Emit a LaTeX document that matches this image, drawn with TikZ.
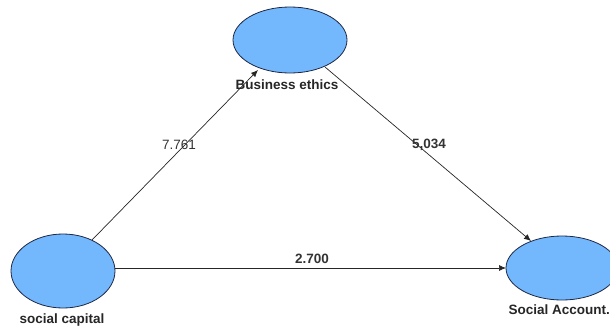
\documentclass[tikz,border=0pt]{standalone}
\usepackage{fontspec}
\setmainfont{Liberation Sans}
\usetikzlibrary{arrows.meta,shapes.geometric}
\definecolor{ellfill}{RGB}{115,183,252}
\definecolor{ellline}{RGB}{30,40,70}
\begin{document}
\begin{tikzpicture}[x=1pt,y=-1pt,
  construct/.style={ellipse,draw=ellline,line width=0.8pt,fill=ellfill,minimum width=#1,minimum height=68pt,inner sep=0pt},
  lbl/.style={font=\fontsize{13.5}{15}\selectfont\bfseries,text=black!85,inner sep=0pt},
  val/.style={font=\fontsize{13.5}{15}\selectfont,text=black!80,inner sep=0pt},
  link/.style={draw=black!85,line width=0.7pt,-{Latex[length=7pt,width=6pt]}}]
\useasboundingbox (0,0) rectangle (610,327);
\clip (0,0) rectangle (610,327);
\node[construct=114pt,minimum height=66pt] (be) at (290,40) {};
\node[construct=104pt,minimum height=74pt] (sc) at (63,271) {};
\node[construct=112pt,minimum height=64pt] (sa) at (562,268) {};
\node[lbl] (belbl) at (287,85) {Business ethics};
\node[lbl] (sclbl) at (62,320) {social capital};
\node[lbl,anchor=east] (salbl) at (610,310) {Social Account.};
\coordinate (beIn) at (258,70);
\coordinate (scOut) at (92,240);
\coordinate (beOut) at (325,67);
\coordinate (saIn) at (531,241);
\coordinate (scR) at (115,268);
\coordinate (saL) at (506,268);
\draw[link] (scOut) -- (beIn);
\draw[link] (beOut) -- (saIn);
\draw[link] (scR) -- (saL);
\node[val] (v1) at (179,145) {7.761};
\node[val,font=\fontsize{13.5}{15}\selectfont\bfseries] (v2) at (429,145) {5,034};
\node[val,font=\fontsize{13.5}{15}\selectfont\bfseries] (v3) at (312,259) {2.700};
\end{tikzpicture}
\end{document}
